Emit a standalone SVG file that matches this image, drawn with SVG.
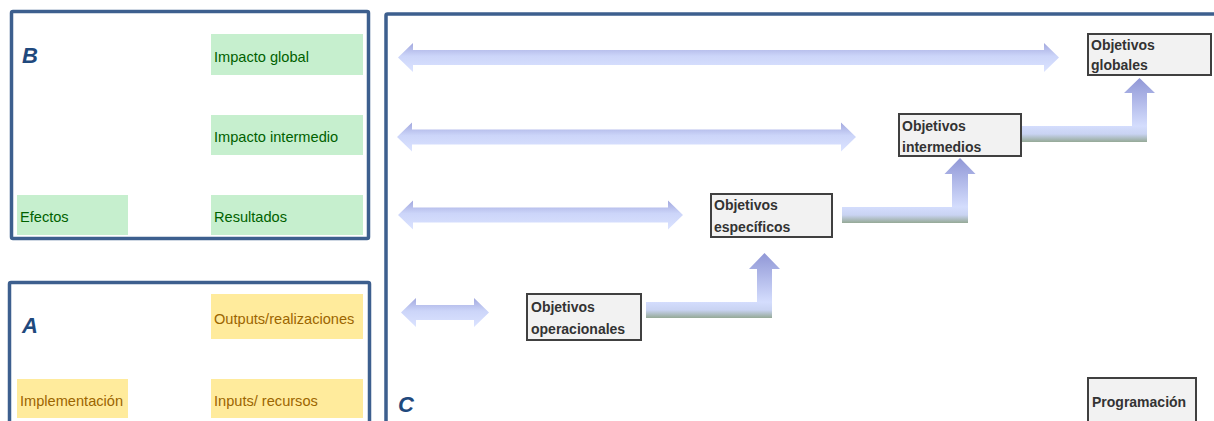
<svg xmlns="http://www.w3.org/2000/svg" width="1214" height="421" viewBox="0 0 1214 421">
<style>
.frame{fill:none;stroke:#3d5f8e;stroke-width:3.5}
.lbl{font-family:"Liberation Sans",Arial,sans-serif;font-size:22px;font-weight:bold;font-style:italic;fill:#1f497d}
.good{fill:#c6efce}
.goodt{font-family:"Liberation Sans",Arial,sans-serif;font-size:14.6px;fill:#006100}
.neut{fill:#ffeb9c}
.neutt{font-family:"Liberation Sans",Arial,sans-serif;font-size:14.6px;fill:#9c6500}
.node{fill:#f2f2f2;stroke:#404040;stroke-width:2}
.nodet{font-family:"Liberation Sans",Arial,sans-serif;font-size:14px;font-weight:bold;fill:#333333}
.dbl{fill:url(#gDbl)}
.bh{fill:url(#gH)}
.bv{fill:url(#gV)}
</style>
<defs>
<linearGradient id="gDbl" x1="0" y1="0" x2="0" y2="1">
<stop offset="0" stop-color="#a2a8de"/>
<stop offset="0.45" stop-color="#ccd5f9"/>
<stop offset="1" stop-color="#dbe3ff"/>
</linearGradient>
<linearGradient id="gH" x1="0" y1="0" x2="0" y2="1">
<stop offset="0" stop-color="#d4ddfd"/>
<stop offset="0.5" stop-color="#c9d3f2"/>
<stop offset="1" stop-color="#95a996"/>
</linearGradient>
<linearGradient id="gV" x1="0" y1="0" x2="0" y2="1">
<stop offset="0" stop-color="#9097d6"/>
<stop offset="1" stop-color="#d4ddfd"/>
</linearGradient>
</defs>
<rect width="1214" height="421" fill="#ffffff"/>

<g id="panelB">
<rect class="frame" x="11.5" y="11.5" width="357" height="227" rx="1.5"/>
<text class="lbl" x="22" y="63">B</text>
</g>
<g id="impacto-global"><rect class="good" x="211" y="34" width="152" height="41"/><text class="goodt" x="214" y="62">Impacto global</text></g>
<g id="impacto-intermedio"><rect class="good" x="211" y="115" width="152" height="40"/><text class="goodt" x="214" y="142">Impacto intermedio</text></g>
<g id="efectos"><rect class="good" x="17" y="195" width="111" height="40"/><text class="goodt" x="20" y="222">Efectos</text></g>
<g id="resultados"><rect class="good" x="211" y="195" width="152" height="40"/><text class="goodt" x="214" y="222">Resultados</text></g>

<g id="panelA">
<rect class="frame" x="9.5" y="282.5" width="360" height="160" rx="1.5"/>
<text class="lbl" x="22" y="333">A</text>
</g>
<g id="outputs"><rect class="neut" x="211" y="294" width="152" height="45"/><text class="neutt" x="214" y="324">Outputs/realizaciones</text></g>
<g id="implementacion"><rect class="neut" x="17" y="379" width="111" height="39"/><text class="neutt" x="20" y="406">Implementación</text></g>
<g id="inputs"><rect class="neut" x="211" y="379" width="152" height="39"/><text class="neutt" x="214" y="406">Inputs/ recursos</text></g>

<g id="panelC">
<rect class="frame" x="386" y="14" width="900" height="500" rx="1.5"/>
<text class="lbl" x="398" y="412">C</text>
</g>

<g id="connectors">
<path class="dbl" d="M398,57.5 L413,43 L413,50 L1044,50 L1044,43 L1059,57.5 L1044,72 L1044,65 L413,65 L413,72 Z"/>
<path class="dbl" d="M397,137 L412,122.5 L412,129.5 L841,129.5 L841,122.5 L856,137 L841,151.5 L841,144.5 L412,144.5 L412,151.5 Z"/>
<path class="dbl" d="M398,215 L413,200.5 L413,207.5 L668,207.5 L668,200.5 L683,215 L668,229.5 L668,222.5 L413,222.5 L413,229.5 Z"/>
<path class="dbl" d="M401,312.5 L416,298 L416,305 L474,305 L474,298 L489,312.5 L474,327 L474,320 L416,320 L416,327 Z"/>

<rect class="bh" x="646" y="302" width="126" height="16"/>
<path class="bv" d="M757,302 L757,269 L749,269 L764.5,253 L780,269 L772,269 L772,302 Z"/>

<rect class="bh" x="842" y="207" width="126" height="16"/>
<path class="bv" d="M952,207 L952,174 L944.5,174 L960,158 L975.5,174 L968,174 L968,207 Z"/>

<rect class="bh" x="1022" y="126" width="125" height="16"/>
<path class="bv" d="M1132,126 L1132,93 L1124,93 L1139.5,78 L1155,93 L1147,93 L1147,126 Z"/>
</g>

<g id="obj-operacionales"><rect class="node" x="527" y="294" width="114" height="46"/><text class="nodet" x="531" y="312">Objetivos</text><text class="nodet" x="531" y="334">operacionales</text></g>
<g id="obj-especificos"><rect class="node" x="711" y="194" width="121" height="43"/><text class="nodet" x="714" y="210">Objetivos</text><text class="nodet" x="714" y="232">específicos</text></g>
<g id="obj-intermedios"><rect class="node" x="899" y="114" width="122" height="42"/><text class="nodet" x="902" y="131">Objetivos</text><text class="nodet" x="902" y="152">intermedios</text></g>
<g id="obj-globales"><rect class="node" x="1088" y="34" width="123" height="41"/><text class="nodet" x="1091" y="50">Objetivos</text><text class="nodet" x="1091" y="70">globales</text></g>
<g id="programacion"><rect class="node" x="1088" y="378" width="108" height="60"/><text class="nodet" x="1092" y="407">Programación</text></g>
</svg>
